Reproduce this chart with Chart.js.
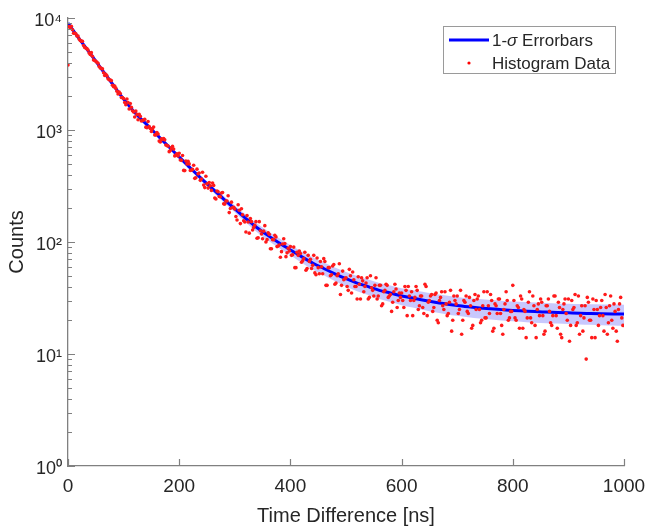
<!DOCTYPE html>
<html>
<head>
<meta charset="utf-8">
<script src="https://cdn.jsdelivr.net/npm/chart.js@4"></script>
<style>
  body { margin: 0; background: #fff; }
  canvas { display: block; }
</style>
</head>
<body>
<canvas id="chart" width="646" height="528"></canvas>
<script>
// histogram counts, 2 ns bins, split into the bins starting at 0, 4, 8 ... ns
// and the bins starting at 2, 6, 10 ... ns
const binStep = 4;
const countsA = [
  3800, 8150, 7850, 7320, 6900, 6480, 6210, 5690, 5390, 5180, 4720, 4550, 4180, 4030, 3690, 3560, 3240, 3150, 2870, 2790, 2510, 2470, 2220, 2180, 1950,
  1913, 1678, 1758, 1721, 1486, 1307, 1378, 1381, 1206, 1224, 1060, 1192, 1030, 1023, 901, 947, 796, 834, 840, 735, 720, 657, 714, 587, 613,
  620, 536, 436, 529, 525, 436, 445, 370, 447, 413, 365, 322, 387, 303, 318, 336, 247, 285, 255, 274, 219, 232, 259, 199, 203,
  197, 157, 192, 198, 155, 123, 151, 162, 128, 141, 108, 152, 118, 125, 100, 121, 87, 105, 115, 91, 94, 82, 107, 74, 88, 91, 77, 59, 81, 83, 66, 71, 56, 76, 70, 62, 53, 72,
  52, 60, 71, 41, 59, 50, 61, 42, 50, 64, 41, 46, 48, 37, 50, 54, 40, 31, 42, 48, 36, 43, 31, 50, 37, 41, 31, 41, 27, 36, 42, 32, 34, 29, 42, 26, 35,
  35, 26, 37, 40, 30, 22, 32, 37, 27, 33, 23, 40, 29, 33, 24, 34, 20, 30, 36, 25, 28, 23, 37, 20, 30, 33, 25, 15, 30, 33, 23, 27, 18, 34, 31, 25, 20, 36, 21, 27, 34, 16, 28, 23, 31, 18, 25, 36, 20, 24,
  41, 21, 27, 17, 31, 25, 14, 29, 21, 33, 18, 25, 22, 29, 15, 27, 31, 19, 22, 33, 17, 26, 14, 28, 23, 31, 18, 25, 34, 19, 15, 27, 21, 9, 29, 20, 31, 14, 25, 22, 30, 16, 26, 19, 33, 17, 24, 13, 28, 21
];
const countsB = [
  8400, 8450, 7315, 7244, 6899, 6304, 6209, 5457, 5327, 4871, 4905, 4224, 4112, 3950, 3575, 3511, 3067, 3054, 2813, 2757, 2434, 2363, 2093, 2121, 1949,
  1761, 1893, 1538, 1597, 1446, 1480, 1233, 1324, 1216, 1249, 1047, 1075, 970, 1062, 904, 920, 782, 823, 817, 726, 641, 693, 675, 596, 587,
  539, 592, 434, 498, 498, 437, 484, 375, 406, 355, 420, 306, 331, 340, 289, 320, 242, 281, 253, 277, 218, 232, 183, 227, 204,
  169, 215, 146, 175, 151, 172, 120, 152, 135, 152, 109, 126, 107, 140, 105, 117, 87, 105, 111, 92, 73, 96, 97, 80, 83, 76, 90, 59, 76, 79, 68, 81, 58, 67, 58, 76, 51, 59,
  67, 52, 67, 41, 59, 51, 63, 43, 52, 34, 55, 47, 40, 57, 35, 46, 40, 49, 31, 45, 40, 48, 32, 39, 33, 48, 33, 41, 28, 37, 41, 33, 24, 36, 38, 30, 32,
  30, 40, 22, 33, 36, 30, 40, 25, 33, 26, 42, 22, 30, 34, 26, 35, 19, 32, 27, 36, 22, 29, 16, 33, 28, 23, 37, 20, 29, 24, 32, 17, 30, 25, 33, 19, 27, 21, 36, 23, 30, 17, 27, 31, 23, 15, 28, 30, 21, 24,
  30, 20, 26, 33, 17, 24, 21, 36, 19, 27, 14, 28, 31, 22, 16, 27, 24, 18, 33, 22, 29, 15, 25, 31, 20, 13, 30, 26, 18, 33, 22, 16, 27, 32, 20, 14, 25, 30, 18, 26, 22, 34, 15, 27, 20, 28, 16, 25, 32, 18
];

// fitted decay curve and its 1-sigma band
const fitTimes = [0, 20, 40, 60, 80, 100, 120, 140, 160, 180, 200, 220, 240, 260, 280, 300, 320, 340, 360, 380, 400, 420, 440, 460, 480,
  500, 520, 540, 560, 580, 600, 620, 640, 660, 680, 700, 720, 740, 760, 780, 800, 820, 840, 860, 880, 900, 920, 940, 960, 980, 1000];
const fitCounts = [9000, 6552, 4807, 3517, 2575, 1885, 1436, 1140, 906, 720, 574, 458, 368, 298, 242, 198, 162, 134, 114, 98, 85, 74, 65, 58, 52,
  47, 43, 40, 37, 35, 33, 31.6, 30.2, 29, 28, 27.1, 26.4, 25.8, 25.3, 24.9, 24.5, 24.2, 23.9, 23.7, 23.5, 23.3, 23.1, 23.0, 22.9, 22.8, 22.7];
const fitUpper = [9095, 6633, 4876, 3576, 2626, 1928, 1474, 1174, 936, 747, 598, 479, 387, 315, 258, 212, 175, 146, 125, 108, 94, 82.6, 73.1, 65.6, 59.2,
  53.9, 49.6, 46.3, 43.1, 40.9, 38.7, 37.2, 35.7, 34.4, 33.3, 32.3, 31.5, 30.9, 30.3, 29.9, 29.4, 29.1, 28.8, 28.6, 28.3, 28.1, 27.9, 27.8, 27.7, 27.6, 27.5];
const fitLower = [8905, 6471, 4738, 3458, 2524, 1842, 1398, 1106, 876, 693, 550, 437, 349, 281, 226, 184, 149, 122, 103, 88, 76, 65.4, 56.9, 50.4, 44.8,
  40.1, 36.4, 33.7, 30.9, 29.1, 27.3, 26.0, 24.7, 23.6, 22.7, 21.9, 21.3, 20.7, 20.3, 19.9, 19.6, 19.3, 19.0, 18.8, 18.7, 18.5, 18.3, 18.2, 18.1, 18.0, 17.9];

// axes
const xTicks = [0, 200, 400, 600, 800, 1000];
const yMajor = [1, 10, 100, 1000, 10000];
const yTickLabels = ['10\u2070', '10\u00b9', '10\u00b2', '10\u00b3', '10\u2074'];

const FONT = "'Liberation Sans', Arial, Helvetica, sans-serif";
const TEXT = '#262626';
const AXIS = '#808080';

Chart.defaults.font.family = FONT;
Chart.defaults.color = TEXT;

let yMinor = [];
yMajor.slice(0, -1).forEach(d => {
    for (let k = 2; k <= 9; k++) yMinor.push(d * k);
});

function xy(xs, ys) {
    return xs.map((x, i) => ({x: x, y: ys[i]}));
}

let histPoints = [];
countsA.forEach((c, i) => {
    histPoints.push({x: i * binStep, y: c});
    histPoints.push({x: i * binStep + binStep / 2, y: countsB[i]});
});

// inward tick marks like the original axes
const tickMarks = {
    id: 'tickMarks',
    afterDraw(chart) {
        const {ctx, chartArea: a, scales: {x, y}} = chart;
        ctx.save();
        ctx.strokeStyle = AXIS;
        ctx.lineWidth = 1.2;
        ctx.beginPath();
        xTicks.forEach(v => {
            let px = Math.round(x.getPixelForValue(v)) + 0.5;
            ctx.moveTo(px, a.bottom);
            ctx.lineTo(px, a.bottom - 7);
        });
        yMajor.forEach(v => {
            let py = Math.round(y.getPixelForValue(v)) + 0.5;
            ctx.moveTo(a.left, py);
            ctx.lineTo(a.left + 7, py);
        });
        yMinor.forEach(v => {
            let py = Math.round(y.getPixelForValue(v)) + 0.5;
            ctx.moveTo(a.left, py);
            ctx.lineTo(a.left + 4, py);
        });
        ctx.stroke();
        ctx.restore();
    }
};

// boxed legend in the upper right corner
const boxLegend = {
    id: 'boxLegend',
    afterDraw(chart) {
        const ctx = chart.ctx;
        ctx.save();
        ctx.fillStyle = '#fff';
        ctx.fillRect(443, 26, 172, 48);
        ctx.strokeStyle = '#9a9a9a';
        ctx.lineWidth = 1;
        ctx.strokeRect(443.5, 26.5, 172, 47);

        ctx.strokeStyle = '#0000ff';
        ctx.lineWidth = 3;
        ctx.beginPath();
        ctx.moveTo(449, 40);
        ctx.lineTo(489, 40);
        ctx.stroke();

        ctx.fillStyle = '#ff0000';
        ctx.beginPath();
        ctx.arc(469, 63, 1.6, 0, Math.PI * 2);
        ctx.fill();

        ctx.fillStyle = TEXT;
        ctx.textBaseline = 'middle';
        ctx.font = '17px ' + FONT;
        let x0 = 492;
        ctx.fillText('1-', x0, 41);
        x0 += ctx.measureText('1-').width;
        ctx.font = 'italic 17px ' + FONT;
        ctx.fillText('\u03c3', x0, 41);
        x0 += ctx.measureText('\u03c3').width;
        ctx.font = '17px ' + FONT;
        ctx.fillText(' Errorbars', x0, 41);
        ctx.fillText('Histogram Data', 492, 64);
        ctx.restore();
    }
};

new Chart(document.getElementById('chart'), {
    type: 'line',
    data: {
        datasets: [
            {
                label: 'Histogram Data',
                type: 'scatter',
                data: histPoints,
                backgroundColor: '#ff1a1a',
                borderWidth: 0,
                pointRadius: 1.8,
                order: 0
            },
            {
                label: '1-\u03c3 Errorbars',
                data: xy(fitTimes, fitCounts),
                borderColor: '#0000ff',
                borderWidth: 3,
                pointRadius: 0,
                cubicInterpolationMode: 'monotone',
                fill: false,
                order: 1
            },
            {
                label: 'lower',
                data: xy(fitTimes, fitLower),
                borderWidth: 0,
                borderColor: 'rgba(0,0,0,0)',
                pointRadius: 0,
                cubicInterpolationMode: 'monotone',
                fill: false,
                order: 2
            },
            {
                label: 'upper',
                data: xy(fitTimes, fitUpper),
                borderWidth: 0,
                borderColor: 'rgba(0,0,0,0)',
                backgroundColor: 'rgba(140,140,250,0.48)',
                pointRadius: 0,
                cubicInterpolationMode: 'monotone',
                fill: '-1',
                order: 2
            }
        ]
    },
    options: {
        responsive: false,
        animation: false,
        devicePixelRatio: 1,
        layout: { padding: { left: 5, right: 22, top: 18, bottom: 0 } },
        plugins: {
            legend: { display: false },
            tooltip: { enabled: false }
        },
        scales: {
            x: {
                type: 'linear',
                min: 0,
                max: 1000,
                afterBuildTicks: s => { s.ticks = xTicks.map(v => ({value: v})); },
                afterFit: s => { s.height = 62; s.paddingLeft = 0; s.paddingRight = 0; },
                ticks: {
                    font: { size: 19 },
                    color: TEXT,
                    padding: 9,
                    maxRotation: 0,
                    autoSkip: false,
                    callback: v => String(v)
                },
                grid: { drawOnChartArea: false, drawTicks: false },
                border: { color: AXIS, width: 1.3 },
                title: { display: true, text: 'Time Difference [ns]', font: { size: 20 }, color: TEXT, padding: 0 }
            },
            y: {
                type: 'logarithmic',
                min: 1,
                max: 10000,
                afterBuildTicks: s => { s.ticks = yMajor.map(v => ({value: v})); },
                afterFit: s => { s.width = 63; s.paddingTop = 0; s.paddingBottom = 0; },
                ticks: {
                    font: { size: 18 },
                    color: TEXT,
                    padding: 6,
                    labelOffset: 3,
                    autoSkip: false,
                    callback: v => {
                        let i = yMajor.indexOf(v);
                        return i >= 0 ? yTickLabels[i] : '';
                    }
                },
                grid: { drawOnChartArea: false, drawTicks: false },
                border: { color: AXIS, width: 1.3 },
                title: { display: true, text: 'Counts', font: { size: 20 }, color: TEXT, padding: 0 }
            }
        }
    },
    plugins: [tickMarks, boxLegend]
});
</script>
</body>
</html>
